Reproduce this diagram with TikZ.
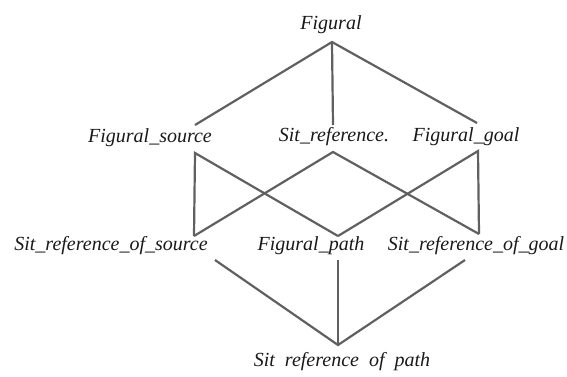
\documentclass[tikz,border=0pt]{standalone}
\usepackage{fontspec}
\setmainfont{Liberation Serif}
\usetikzlibrary{positioning, calc}

\begin{document}
\begin{tikzpicture}[
  x=1pt, y=-1pt,
  term/.style={font=\fontsize{20}{24}\selectfont\itshape, inner sep=0pt, text=black!90},
  link/.style={draw=gray!75!black, line width=2.2pt, line join=miter}
]
\useasboundingbox (0,0) rectangle (567,376);

% the labels, row by row
\node[term] (fig)   at (331,25)  {Figural};
\node[term] (src)   at (150,138) {Figural\_source};
\node[term] (sref)  at (334,137) {Sit\_reference.};
\node[term] (goal)  at (466,137) {Figural\_goal};
\node[term] (srcs)  at (111,246) {Sit\_reference\_of\_source};
\node[term] (path)  at (311,246) {Figural\_path};
\node[term] (srcg)  at (476,246) {Sit\_reference\_of\_goal};
\node[term] (srcp)  at (342,362) {Sit\ \ reference\ \ of\ \ path};

% where the lines meet each label
\coordinate (fig-b)  at (332,42);
\coordinate (src-t)  at (195,125);
\coordinate (src-b)  at (195,153);
\coordinate (sref-t) at (333,125);
\coordinate (sref-b) at (333,152);
\coordinate (goal-t) at (477,123);
\coordinate (goal-b) at (478,151);
\coordinate (srcs-t) at (194,236);
\coordinate (srcs-b) at (215,260);
\coordinate (path-t) at (338,236);
\coordinate (path-b) at (338,260);
\coordinate (srcg-t) at (479,234);
\coordinate (srcg-b) at (465,260);
\coordinate (srcp-t) at (338,345);

% first row
\draw[link] (src-t) -- (fig-b) -- (goal-t);
\draw[link] (fig-b) -- (sref-t);

% second row to third row
\draw[link] (srcs-t) -- (src-b) -- (path-t);
\draw[link] (srcs-t) -- (sref-b) -- (srcg-t);
\draw[link] (path-t) -- (goal-b) -- (srcg-t);

% third row down to the bottom
\draw[link] (srcs-b) -- (srcp-t) -- (srcg-b);
\draw[link] (path-b) -- (srcp-t);
\end{tikzpicture}
\end{document}
